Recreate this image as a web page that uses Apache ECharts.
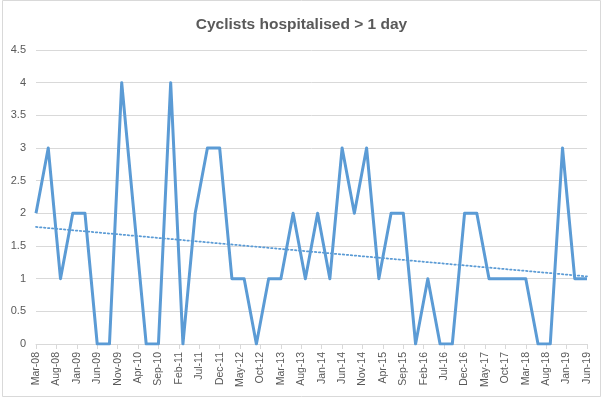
<!DOCTYPE html>
<html>
<head>
<meta charset="utf-8">
<script src="https://cdn.jsdelivr.net/npm/echarts@6/dist/echarts.min.js"></script>
<style>
html,body{margin:0;padding:0;background:#fff;}
#chart{width:603px;height:399px;}
</style>
</head>
<body>
<div id="chart"></div>
<script>
// Quarterly observation months (Mar-08 .. Jun-19)
var months = ['2008-03','2008-06','2008-09','2008-12','2009-03','2009-06','2009-09','2009-12',
  '2010-03','2010-06','2010-09','2010-12','2011-03','2011-06','2011-09','2011-12',
  '2012-03','2012-06','2012-09','2012-12','2013-03','2013-06','2013-09','2013-12',
  '2014-03','2014-06','2014-09','2014-12','2015-03','2015-06','2015-09','2015-12',
  '2016-03','2016-06','2016-09','2016-12','2017-03','2017-06','2017-09','2017-12',
  '2018-03','2018-06','2018-09','2018-12','2019-03','2019-06'];
var values = [2,3,1,2,2,0,0,4,2,0,0,4,0,2,3,3,1,1,0,1,1,2,1,2,1,3,2,3,1,2,2,0,1,0,0,2,2,1,1,1,1,0,0,3,1,1];
var tickLabels = ['Mar-08','Aug-08','Jan-09','Jun-09','Nov-09','Apr-10','Sep-10','Feb-11','Jul-11',
  'Dec-11','May-12','Oct-12','Mar-13','Aug-13','Jan-14','Jun-14','Nov-14','Apr-15','Sep-15',
  'Feb-16','Jul-16','Dec-16','May-17','Oct-17','Mar-18','Aug-18','Jan-19','Jun-19'];
var yTicks = [0,0.5,1,1.5,2,2.5,3,3.5,4,4.5];

function monthIndex(s){
  var p = s.split('-');
  return (parseInt(p[0],10)-2008)*12 + (parseInt(p[1],10)-3);
}
var pts = months.map(function(m,i){ return [monthIndex(m), values[i]]; });

// linear trendline (least squares)
var n = pts.length, sx=0, sy=0, sxx=0, sxy=0;
pts.forEach(function(p){ sx+=p[0]; sy+=p[1]; sxx+=p[0]*p[0]; sxy+=p[0]*p[1]; });
var b = (n*sxy - sx*sy)/(n*sxx - sx*sx);
var a = (sy - b*sx)/n;
var xMin = pts[0][0], xMax = pts[n-1][0];
var trend = [[xMin, a+b*xMin],[xMax, a+b*xMax]];

var chart = echarts.init(document.getElementById('chart'), null, {renderer:'canvas'});
chart.setOption({
  animation:false,
  backgroundColor:'#fff',
  title:{
    text:'Cyclists hospitalised > 1 day',
    left:'center', top:12,
    textStyle:{fontFamily:'Liberation Sans', fontSize:15.5, fontWeight:'bold', color:'#595959'}
  },
  graphic:[{
    type:'rect', shape:{x:2.5,y:0.5,width:598,height:396},
    style:{fill:null, stroke:'#d9d9d9', lineWidth:1}, silent:true
  }],
  grid:{left:36, right:16, top:50, bottom:55, containLabel:false, outerBoundsMode:'none'},
  xAxis:{
    type:'value', min:0, max:135, interval:5,
    axisLine:{show:true, lineStyle:{color:'#d9d9d9', width:1}},
    axisTick:{show:true, length:5, lineStyle:{color:'#d9d9d9'}},
    splitLine:{show:false},
    axisLabel:{
      rotate:90, margin:8, color:'#595959', fontSize:10.5, fontFamily:'Liberation Sans',
      showMinLabel:true, showMaxLabel:true,
      formatter:function(v){ return tickLabels[Math.round(v/5)] || ''; }
    }
  },
  yAxis:{
    type:'value', min:yTicks[0], max:yTicks[yTicks.length-1], interval:0.5,
    axisLine:{show:false}, axisTick:{show:false},
    splitLine:{show:true, lineStyle:{color:'#d9d9d9', width:1}},
    axisLabel:{color:'#595959', fontSize:11, fontFamily:'Liberation Sans', margin:10}
  },
  series:[
    {
      type:'line', data:trend, symbol:'none', silent:true, z:3,
      lineStyle:{color:'#5B9BD5', width:1.75, type:[1.5,2.5], cap:'round'}
    },
    {
      type:'line', data:pts, symbol:'none', z:2,
      lineStyle:{color:'#5B9BD5', width:3, join:'round'}
    }
  ]
});
</script>
</body>
</html>
